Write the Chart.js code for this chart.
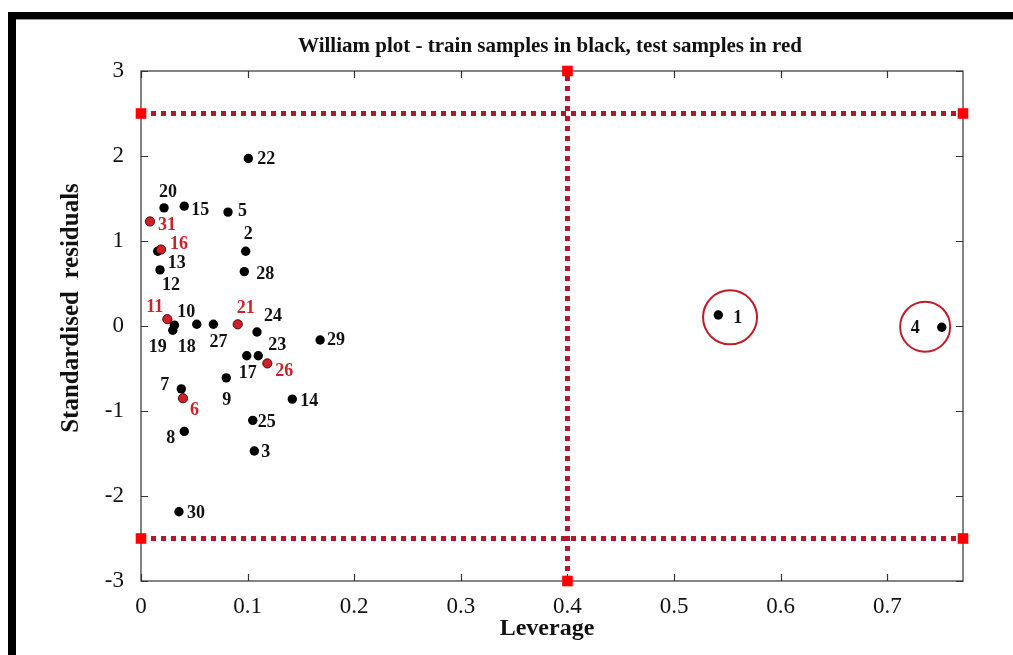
<!DOCTYPE html>
<html>
<head>
<meta charset="utf-8">
<title>William plot</title>
<script src="https://cdn.jsdelivr.net/npm/chart.js@4.4.1/dist/chart.umd.min.js"></script>
<style>
  html, body { margin: 0; padding: 0; background: #ffffff; }
  #wrap { position: relative; width: 1013px; height: 655px; }
  canvas { display: block; }
</style>
</head>
<body>
<div id="wrap"><canvas id="chart" width="1013" height="655"></canvas></div>
<script>
// Training samples (black): id, leverage, standardised residual
const trainIds = [1, 2, 3, 4, 5, 7, 8, 9, 10, 12, 13, 14, 15, 17, 18, 19, 20, 22, 23, 24, 25, 27, 28, 29, 30];
const trainLeverage = [0.5415, 0.0982, 0.1063, 0.7511, 0.0816, 0.0378, 0.0406, 0.0800, 0.0313, 0.0178, 0.0157, 0.1419, 0.0406, 0.0992, 0.0523, 0.0298, 0.0216, 0.1007, 0.1100, 0.1088, 0.1048, 0.0679, 0.0969, 0.1680, 0.0356];
const trainResidual = [0.13, 0.88, -1.47, -0.015, 1.34, -0.74, -1.24, -0.61, 0.01, 0.66, 0.88, -0.86, 1.41, -0.35, 0.02, -0.05, 1.39, 1.97, -0.35, -0.07, -1.11, 0.02, 0.64, -0.165, -2.185];

// Test samples (red)
const testIds = [6, 11, 16, 21, 26, 31];
const testLeverage = [0.0394, 0.0247, 0.0188, 0.0907, 0.1185, 0.0084];
const testResidual = [-0.85, 0.08, 0.90, 0.02, -0.44, 1.23];

// Applicability-domain limits
const warningLeverage = 0.4;      // h*
const residualLimit = 2.5;        // +/- 2.5 standard deviations
const leverageMax = 0.771;
const residualMin = -3;
const residualMax = 3;

// Outliers highlighted with a ring (centre of each ring)
const ringLeverage = [0.5525, 0.7355];
const ringResidual = [0.102, -0.008];
const ringRadius = [27, 25];

// Axis ticks
const xTickStep = 0.1;
const yTickStep = 1;

const titleText = 'William plot - train samples in black, test samples in red';
const xTitleText = 'Leverage';
const yTitleText = 'Standardised  residuals';

const SERIF = '"Liberation Serif", "Times New Roman", "DejaVu Serif", serif';
const LIMIT_COLOR = '#b3172d';
const END_COLOR = '#ff0000';
const TEST_COLOR = '#d0202a';

const toPoints = (xs, ys) => xs.map((x, i) => ({ x: x, y: ys[i] }));

// where each point's id is written, relative to the point (text left edge, middle)
const labelOffsets = {
  22: [9, 1], 20: [-5, -16], 15: [7, 4], 5: [10, -1], 31: [8, 4], 16: [9, -5],
  13: [10, 12], 12: [2, 15], 2: [-2, -17], 28: [12, 3], 11: [-21, -12], 10: [3, -13],
  19: [-24, 17], 18: [-19, 23], 27: [-4, 18], 21: [-1, -16], 24: [7, -16], 29: [7, 0],
  23: [10, -10], 17: [-8, 18], 26: [8, 8], 9: [-4, 22], 7: [-21, -4], 6: [7, 12],
  8: [-18, 7], 14: [8, 2], 25: [5, 2], 3: [7, 1], 30: [8, 2], 1: [15, 3], 4: [-31, 1]
};

// Black frame around the figure
const framePlugin = {
  id: 'frame',
  beforeDraw(chart) {
    const ctx = chart.ctx;
    ctx.save();
    ctx.fillStyle = '#ffffff';
    ctx.fillRect(0, 0, chart.width, chart.height);
    ctx.fillStyle = '#000000';
    ctx.fillRect(8, 12, chart.width - 8, 7);
    ctx.fillRect(8, 12, 8, chart.height - 12);
    ctx.fillStyle = '#9a9a9a';
    ctx.fillRect(16, 19, chart.width - 16, 1);
    ctx.restore();
  }
};

// Axes box with inward tick marks on all four sides
const boxPlugin = {
  id: 'box',
  beforeDatasetsDraw(chart) {
    const { ctx, chartArea: a } = chart;
    const xs = chart.scales.x, ys = chart.scales.y;
    const tl = 7;
    ctx.save();
    ctx.strokeStyle = '#333333';
    ctx.lineWidth = 1.2;
    ctx.strokeRect(a.left, a.top, a.right - a.left, a.bottom - a.top);
    ctx.beginPath();
    xs.ticks.forEach(t => {
      const px = Math.round(xs.getPixelForValue(t.value)) + 0.5;
      ctx.moveTo(px, a.bottom); ctx.lineTo(px, a.bottom - tl);
      ctx.moveTo(px, a.top); ctx.lineTo(px, a.top + tl);
    });
    ys.ticks.forEach(t => {
      const py = Math.round(ys.getPixelForValue(t.value)) + 0.5;
      ctx.moveTo(a.left, py); ctx.lineTo(a.left + tl, py);
      ctx.moveTo(a.right, py); ctx.lineTo(a.right - tl, py);
    });
    ctx.stroke();
    ctx.restore();
  }
};

// Sample ids next to each point, plus the figure's title and axis titles
const textPlugin = {
  id: 'texts',
  afterDatasetsDraw(chart) {
    const { ctx, chartArea: a } = chart;
    ctx.save();
    ctx.textAlign = 'left';
    ctx.textBaseline = 'middle';
    ctx.font = 'bold 18px ' + SERIF;
    chart.data.datasets.forEach((ds, di) => {
      if (!ds.ids) return;
      const meta = chart.getDatasetMeta(di);
      ctx.fillStyle = ds.labelColor;
      meta.data.forEach((el, j) => {
        const id = ds.ids[j];
        const off = labelOffsets[id] || [8, 0];
        ctx.fillText(String(id), el.x + off[0], el.y + off[1]);
      });
    });

    ctx.fillStyle = '#111111';
    ctx.textAlign = 'center';
    ctx.font = 'bold 21px ' + SERIF;
    ctx.fillText(titleText, (a.left + a.right) / 2 - 2, 47);

    ctx.font = 'bold 24px ' + SERIF;
    ctx.fillText(xTitleText, (a.left + a.right) / 2 - 5, 629);

    ctx.translate(72, 308);
    ctx.rotate(-Math.PI / 2);
    ctx.font = 'bold 25px ' + SERIF;
    ctx.fillText(yTitleText, 0, 0);
    ctx.restore();
  }
};

const limitLine = (pts) => ({
  type: 'line',
  data: pts,
  borderColor: LIMIT_COLOR,
  borderWidth: 5,
  borderDash: [5, 5],
  borderCapStyle: 'butt',
  pointStyle: 'rect',
  pointRadius: 7.5,
  pointBackgroundColor: END_COLOR,
  pointBorderColor: END_COLOR,
  pointBorderWidth: 0,
  showLine: true,
  fill: false,
  clip: false,
  order: 3
});

const chart = new Chart(document.getElementById('chart'), {
  type: 'scatter',
  data: {
    datasets: [
      {
        label: 'train',
        ids: trainIds,
        labelColor: '#111111',
        data: toPoints(trainLeverage, trainResidual),
        pointRadius: 4.7,
        pointBackgroundColor: '#000000',
        pointBorderColor: '#000000',
        pointBorderWidth: 0,
        order: 1
      },
      {
        label: 'test',
        ids: testIds,
        labelColor: TEST_COLOR,
        data: toPoints(testLeverage, testResidual),
        pointRadius: 4.6,
        pointBackgroundColor: TEST_COLOR,
        pointBorderColor: '#4a0808',
        pointBorderWidth: 1,
        order: 0
      },
      {
        label: 'rings',
        data: toPoints(ringLeverage, ringResidual),
        pointRadius: ringRadius,
        pointBackgroundColor: 'rgba(0,0,0,0)',
        pointBorderColor: '#c01c28',
        pointBorderWidth: 2,
        order: 2
      },
      limitLine([{ x: 0, y: residualLimit }, { x: leverageMax, y: residualLimit }]),
      limitLine([{ x: 0, y: -residualLimit }, { x: leverageMax, y: -residualLimit }]),
      limitLine([{ x: warningLeverage, y: residualMin }, { x: warningLeverage, y: residualMax }])
    ]
  },
  options: {
    responsive: false,
    animation: false,
    events: [],
    layout: { padding: { left: 0, right: 50, top: 71, bottom: 0 } },
    plugins: {
      legend: { display: false },
      tooltip: { enabled: false },
      title: { display: false }
    },
    scales: {
      x: {
        type: 'linear',
        min: 0,
        max: leverageMax,
        grid: { display: false },
        border: { display: false },
        ticks: {
          stepSize: xTickStep,
          includeBounds: false,
          padding: 4,
          color: '#111111',
          font: { family: SERIF, size: 23 },
          callback: v => String(Math.round(v * 10) / 10)
        },
        afterFit(scale) { scale.height = 74; }
      },
      y: {
        type: 'linear',
        min: residualMin,
        max: residualMax,
        grid: { display: false },
        border: { display: false },
        ticks: {
          stepSize: yTickStep,
          padding: 9,
          color: '#111111',
          font: { family: SERIF, size: 23 },
          callback: v => String(Math.round(v))
        },
        afterFit(scale) { scale.width = 141; }
      }
    }
  },
  plugins: [framePlugin, boxPlugin, textPlugin]
});
</script>
</body>
</html>
